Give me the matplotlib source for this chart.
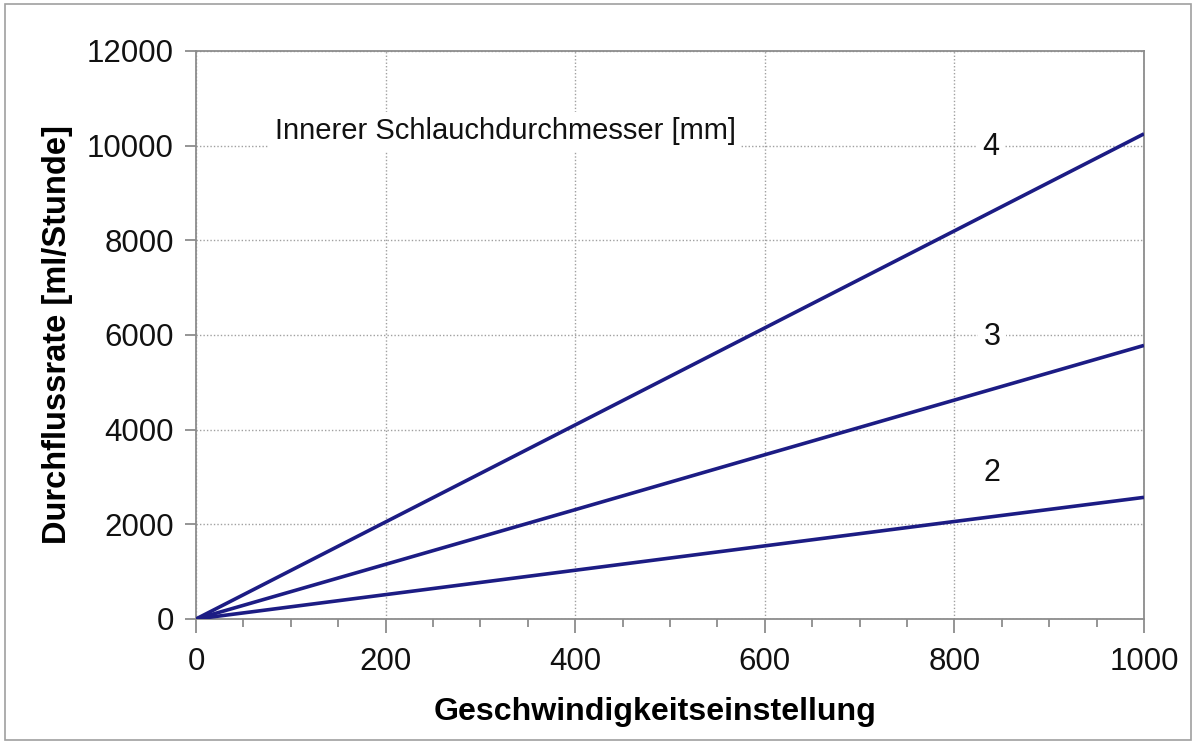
import matplotlib
matplotlib.use("Agg")
import matplotlib.pyplot as plt
from matplotlib.ticker import MultipleLocator
from matplotlib.patches import Rectangle

plt.rcParams['font.family'] = ['Liberation Sans', 'DejaVu Sans']

speed = [0, 200, 400, 600, 800, 1000]
flow_4mm = [0, 2050, 4100, 6150, 8200, 10250]
flow_3mm = [0, 1155, 2310, 3470, 4625, 5780]
flow_2mm = [0, 515, 1030, 1545, 2060, 2570]
series = [("4", flow_4mm, 838, 9970), ("3", flow_3mm, 840, 5960), ("2", flow_2mm, 840, 3080)]
xticks = [0, 200, 400, 600, 800, 1000]
yticks = [0, 2000, 4000, 6000, 8000, 10000, 12000]

fig = plt.figure(figsize=(11.96, 7.44), dpi=100)
ax = fig.add_axes([196/1196, 1-619/744, (1144-196)/1196, (619-51)/744])

fig.patches.append(Rectangle((5/1196, 4/744), 1186/1196, 736/744, transform=fig.transFigure,
                             fill=False, edgecolor='#a0a0a0', linewidth=1.2))

for name, vals, tx, ty in series:
    ax.plot(speed, vals, color='#1c1c84', linewidth=2.6, solid_capstyle='butt', zorder=3)
    ax.text(tx, ty, name, fontsize=22, ha='center', va='center', color='#111111',
            bbox=dict(facecolor='white', edgecolor='none', pad=4), zorder=2)

ax.text(83, 10300, "Innerer Schlauchdurchmesser [mm]", fontsize=21, ha='left', va='center',
        color='#111111', bbox=dict(facecolor='white', edgecolor='none', pad=4), zorder=2)

ax.set_xlim(0, 1000)
ax.set_ylim(0, 12000)
ax.set_xticks(xticks)
ax.set_yticks(yticks)
ax.xaxis.set_minor_locator(MultipleLocator(50))
ax.grid(True, which='major', linestyle=(0, (1, 1.5)), color='#a0a0a0', linewidth=1.0, zorder=0)
ax.set_axisbelow(True)

for s in ax.spines.values():
    s.set_color('#8c8c8c')
    s.set_linewidth(1.3)

ax.tick_params(axis='both', which='major', labelsize=22.5, colors='#8c8c8c', labelcolor='#111111',
               width=1.3)
ax.tick_params(axis='x', which='major', length=10, direction='out', pad=10)
ax.tick_params(axis='y', which='major', length=8, direction='out', pad=8)
ax.tick_params(axis='x', which='minor', length=6, direction='out', colors='#8c8c8c', width=1.3)

ax.set_xlabel("Geschwindigkeitseinstellung", fontsize=23.1, fontweight='bold')
ax.xaxis.set_label_coords((655-196)/948, -(712-619)/568)
ax.xaxis.label.set_va('center')
ax.set_ylabel("Durchflussrate [ml/Stunde]", fontsize=23.5, fontweight='bold', labelpad=10)

fig.savefig("out.png", dpi=100)
